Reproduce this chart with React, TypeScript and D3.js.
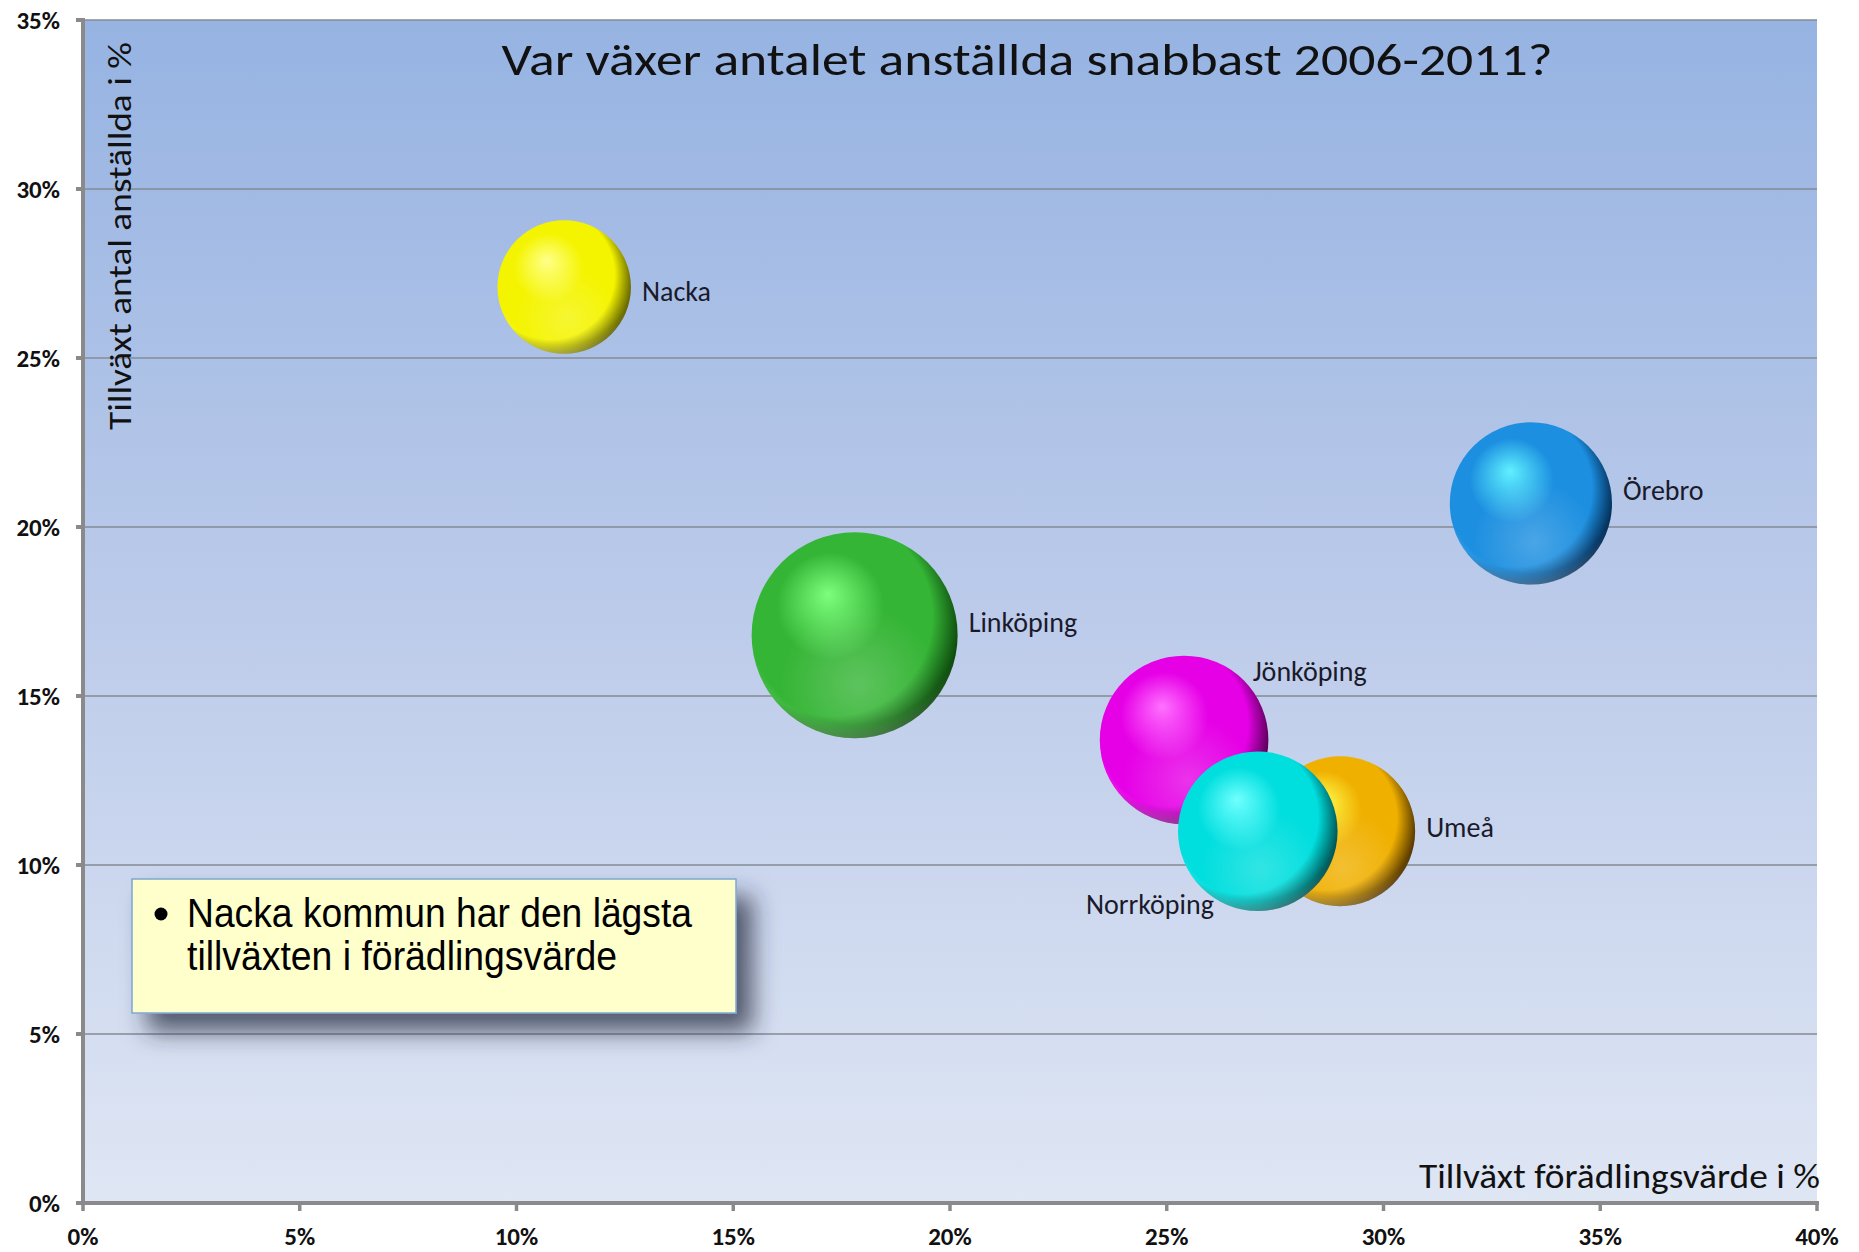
import React from "react";
import * as d3 from "d3";

const cities = ["Nacka", "Linköping", "Örebro", "Jönköping", "Umeå", "Norrköping"];
const growthValueAdded = [11.1, 17.8, 33.4, 25.4, 29.0, 27.1];
const growthEmployees = [27.1, 16.8, 20.7, 13.7, 11.0, 11.0];
const bubbleSizes = [4.2, 10.0, 6.2, 6.7, 5.3, 6.0];
const labelPlacement = ["right", "rightHigh", "rightHigh", "topRight", "rightMid", "bottomLeft"];
const baseColors = ["#f4f400", "#35b535", "#1c8fe0", "#e600e6", "#f0b000", "#00dede"];
const highlightColors = ["#ffff8a", "#7dff7d", "#5ff0ff", "#ff70ff", "#ffff50", "#70ffff"];
const darkColors = ["#5a5a00", "#0b420b", "#02284e", "#4c004c", "#4a2e00", "#004848"];

const xTicks = [0, 5, 10, 15, 20, 25, 30, 35, 40];
const yTicks = [0, 5, 10, 15, 20, 25, 30, 35];

const title = "Var växer antalet anställda snabbast 2006-2011?";
const xTitle = "Tillväxt förädlingsvärde i %";
const yTitle = "Tillväxt antal anställda i %";
const noteLines = ["Nacka kommun har den lägsta", "tillväxten i förädlingsvärde"];

const W = 1859;
const H = 1252;
const left = 83;
const right = 1817;
const top = 20;
const bottom = 1203;

export default function App() {
  const x = d3.scaleLinear().domain([0, 40]).range([left, right]);
  const y = d3.scaleLinear().domain([0, 35]).range([bottom, top]);
  const r = d3.scaleSqrt().domain([0, d3.max(bubbleSizes) as number]).range([0, 103]);
  const labelFont = "Carlito, Lato, 'Open Sans', sans-serif";

  const order = [0, 1, 2, 3, 4, 5];

  return (
    <svg width={W} height={H} style={{ position: "absolute", left: 0, top: 0, background: "#fff" }}>
      <defs>
        <linearGradient id="plotBg" x1="0" y1="0" x2="0" y2="1">
          <stop offset="0" stopColor="#96b3e2" />
          <stop offset="0.5" stopColor="#bccbea" />
          <stop offset="1" stopColor="#dfe6f4" />
        </linearGradient>
        {order.map((i) => (
          <radialGradient key={"g" + i} id={"bub" + i} cx="0.4" cy="0.44" r="0.62" fx="0.37" fy="0.3">
            <stop offset="0" stopColor={highlightColors[i]} />
            <stop offset="0.42" stopColor={baseColors[i]} />
            <stop offset="0.78" stopColor={baseColors[i]} />
            <stop offset="0.9" stopColor={d3.interpolateRgb(baseColors[i], darkColors[i])(0.55)} />
            <stop offset="1" stopColor={darkColors[i]} />
          </radialGradient>
        ))}
        <radialGradient id="glow" cx="0.52" cy="0.74" r="0.38">
          <stop offset="0" stopColor="#ffffff" stopOpacity="0.2" />
          <stop offset="1" stopColor="#ffffff" stopOpacity="0" />
        </radialGradient>
        <radialGradient id="rim" cx="0.5" cy="0.42" r="0.6">
          <stop offset="0.86" stopColor="#ffffff" stopOpacity="0" />
          <stop offset="0.98" stopColor="#ffffff" stopOpacity="0.18" />
          <stop offset="1" stopColor="#ffffff" stopOpacity="0" />
        </radialGradient>
        <filter id="shadow" x="-20%" y="-30%" width="150%" height="180%">
          <feDropShadow dx="16" dy="18" stdDeviation="12" floodColor="#2a2f40" floodOpacity="0.75" />
        </filter>
      </defs>

      <rect x={left} y={top} width={right - left} height={bottom - top} fill="url(#plotBg)" />

      {yTicks.filter((t) => t > 0).map((t) => (
        <line key={"gl" + t} x1={left} x2={right} y1={y(t)} y2={y(t)} stroke="#858b94" strokeWidth={1.3} />
      ))}

      {/* axes */}
      <line x1={left} x2={left} y1={top - 2} y2={bottom + 2} stroke="#8a8a8a" strokeWidth={4} />
      <line x1={left - 2} x2={right + 2} y1={bottom} y2={bottom} stroke="#8a8a8a" strokeWidth={4} />
      {yTicks.map((t) => (
        <line key={"yt" + t} x1={left - 7} x2={left} y1={y(t)} y2={y(t)} stroke="#8a8a8a" strokeWidth={4} />
      ))}
      {xTicks.map((t) => (
        <line key={"xt" + t} x1={x(t)} x2={x(t)} y1={bottom} y2={bottom + 8} stroke="#8a8a8a" strokeWidth={3.5} />
      ))}
      {yTicks.map((t) => (
        <text key={"yl" + t} x={60} y={y(t)} dy="0.36em" textAnchor="end" fontFamily={labelFont} fontWeight="bold" fontSize={25} fill="#111">
          {t + "%"}
        </text>
      ))}
      {xTicks.map((t) => (
        <text key={"xl" + t} x={x(t)} y={1245} textAnchor="middle" fontFamily={labelFont} fontWeight="bold" fontSize={25} fill="#111">
          {t + "%"}
        </text>
      ))}

      {/* titles */}
      <text x={1027} y={75} textAnchor="middle" fontFamily={labelFont} fontSize={46} fill="#111" textLength={1051} lengthAdjust="spacingAndGlyphs">
        {title}
      </text>
      <text x={1820} y={1188} textAnchor="end" fontFamily={labelFont} fontSize={34} fill="#111" textLength={401} lengthAdjust="spacingAndGlyphs">
        {xTitle}
      </text>
      <text transform="translate(131,430) rotate(-90)" fontFamily={labelFont} fontSize={33} fill="#111" textLength={388} lengthAdjust="spacingAndGlyphs">
        {yTitle}
      </text>

      {/* bubbles */}
      {order.map((i) => {
        const cx = x(growthValueAdded[i]);
        const cy = y(growthEmployees[i]);
        const rr = r(bubbleSizes[i]);
        return (
          <g key={"b" + i}>
            <circle cx={cx} cy={cy} r={rr} fill={"url(#bub" + i + ")"} />
            <circle cx={cx} cy={cy} r={rr} fill="url(#glow)" />
            <circle cx={cx} cy={cy} r={rr} fill="url(#rim)" />
          </g>
        );
      })}
      {order.map((i) => {
        const cx = x(growthValueAdded[i]);
        const cy = y(growthEmployees[i]);
        const rr = r(bubbleSizes[i]);
        const p = labelPlacement[i];
        let lx = cx + rr + 11;
        let ly = cy + 4;
        let anchor = "start";
        if (p === "rightHigh") {
          ly = cy - 13;
        } else if (p === "rightMid") {
          ly = cy - 4;
        } else if (p === "topRight") {
          lx = cx + rr * 0.707 + 9;
          ly = cy - rr * 0.707 - 9;
        } else if (p === "bottomLeft") {
          lx = cx - rr * 0.55;
          ly = cy + rr * 0.92;
          anchor = "end";
        }
        return (
          <text key={"l" + i} x={lx} y={ly} dy="0.35em" textAnchor={anchor} fontFamily={labelFont} fontSize={28} fill="#1a1a2a">
            {cities[i]}
          </text>
        );
      })}

      {/* note box */}
      <g>
        <rect x={132} y={879} width={604} height={134} fill="#ffffcc" stroke="#7ea6d4" strokeWidth={1.5} filter="url(#shadow)" />
        <circle cx={161} cy={914} r={6.5} fill="#000" />
        <text x={187} y={927} fontFamily="'Liberation Sans', Arial, sans-serif" fontSize={41} fill="#000" textLength={505} lengthAdjust="spacingAndGlyphs">
          {noteLines[0]}
        </text>
        <text x={187} y={970} fontFamily="'Liberation Sans', Arial, sans-serif" fontSize={41} fill="#000" textLength={430} lengthAdjust="spacingAndGlyphs">
          {noteLines[1]}
        </text>
      </g>
    </svg>
  );
}
